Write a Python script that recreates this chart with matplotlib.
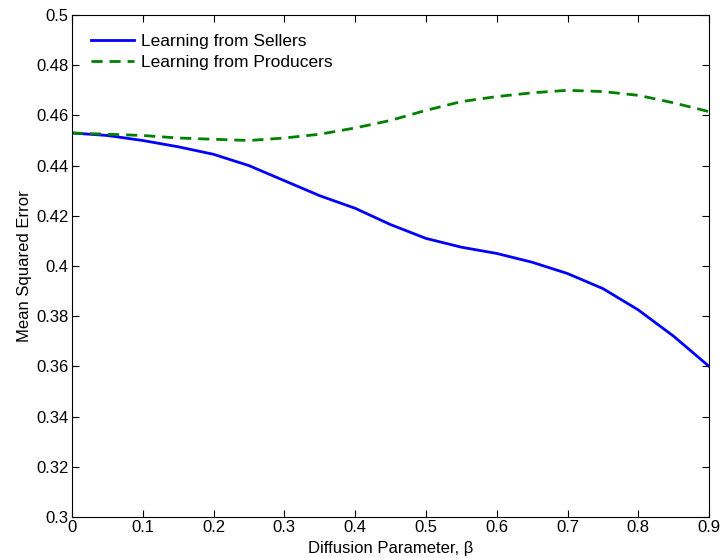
import numpy as np
import matplotlib
matplotlib.use("Agg")
import matplotlib.pyplot as plt
from matplotlib.ticker import FuncFormatter

# diffusion parameter beta
beta = [0.0, 0.05, 0.1, 0.15, 0.2, 0.25, 0.3, 0.35, 0.4, 0.45,
        0.5, 0.55, 0.6, 0.65, 0.7, 0.75, 0.8, 0.85, 0.9]

# mean squared error
mse_sellers = [0.453, 0.452, 0.450, 0.4475, 0.4445, 0.440, 0.434, 0.428, 0.423, 0.4165,
               0.411, 0.4075, 0.405, 0.4015, 0.397, 0.391, 0.3825, 0.372, 0.360]
mse_producers = [0.453, 0.4525, 0.452, 0.451, 0.4505, 0.450, 0.451, 0.4525, 0.455, 0.458,
                 0.462, 0.4655, 0.4675, 0.469, 0.470, 0.4695, 0.468, 0.465, 0.4615]

plt.rcParams['font.family'] = ['Liberation Sans', 'DejaVu Sans']

fig = plt.figure(figsize=(7.24, 5.58), dpi=100)
ax = fig.add_axes([0.0994, 0.0735, 0.880, 0.8996])

ax.plot(beta, mse_sellers, color="#0000ff", lw=2, label="Learning from Sellers")
ax.plot(beta, mse_producers, color="#008000", lw=2, ls=(0, (4, 2.5)), label="Learning from Producers")

ax.set_xlim(0, 0.9)
ax.set_ylim(0.3, 0.5)
ax.set_xticks(np.arange(0, 0.91, 0.1))
ax.set_yticks(np.arange(0.3, 0.501, 0.02))
fmt = FuncFormatter(lambda v, p: "%g" % round(v, 4))
ax.xaxis.set_major_formatter(fmt)
ax.yaxis.set_major_formatter(fmt)
ax.tick_params(direction="in", top=True, right=True, length=5, labelsize=12, width=0.8, pad=2.5)
ax.set_xlabel("Diffusion Parameter, β", fontsize=12, labelpad=4)
ax.set_ylabel("Mean Squared Error", fontsize=12, labelpad=3)

ax.legend(loc="upper left", frameon=False, fontsize=12.5, handlelength=2.5,
          handletextpad=0.35, borderaxespad=0.7, labelspacing=0.3)

fig.savefig("out.png", dpi=100)
